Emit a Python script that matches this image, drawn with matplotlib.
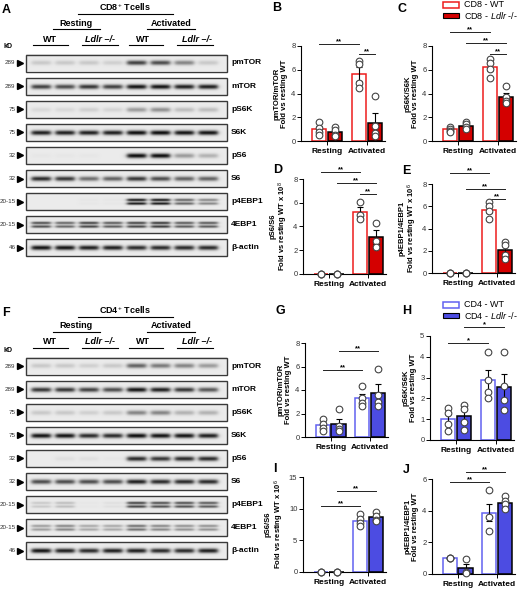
import numpy as np
import matplotlib
matplotlib.use('Agg')
import matplotlib.pyplot as plt
from matplotlib.patches import Rectangle

plt.rcParams['font.family'] = ['Liberation Sans', 'DejaVu Sans']
plt.rcParams['mathtext.fontset'] = 'custom'
plt.rcParams['mathtext.rm'] = 'Liberation Sans'
plt.rcParams['mathtext.it'] = 'Liberation Sans:italic'
plt.rcParams['mathtext.bf'] = 'Liberation Sans:bold'

# ---- blot data (band intensity per lane, 0..1) ----
proteins = ['pmTOR', 'mTOR', 'pS6K', 'S6K', 'pS6', 'S6', 'p4EBP1', '4EBP1', 'β-actin']
kd_marks = ['289', '289', '75', '75', '32', '32', '20-15', '20-15', '46']
doublets = ['p4EBP1', '4EBP1']

cd8_bands = [
    [0.15, 0.15, 0.15, 0.12, 0.75, 0.70, 0.45, 0.15],
    [0.75, 0.70, 0.80, 0.75, 0.95, 0.95, 0.90, 0.90],
    [0.08, 0.08, 0.12, 0.10, 0.35, 0.40, 0.20, 0.20],
    [0.90, 0.90, 0.90, 0.90, 0.98, 0.98, 0.95, 0.95],
    [0.02, 0.02, 0.02, 0.00, 0.98, 0.98, 0.35, 0.25],
    [0.85, 0.80, 0.55, 0.60, 0.80, 0.70, 0.60, 0.60],
    [0.00, 0.00, 0.02, 0.02, 0.95, 0.95, 0.60, 0.45],
    [0.70, 0.60, 0.75, 0.65, 0.75, 0.80, 0.65, 0.65],
    [0.95, 0.95, 0.90, 0.90, 0.85, 0.85, 0.85, 0.85],
]
cd4_bands = [
    [0.15, 0.15, 0.12, 0.15, 0.60, 0.50, 0.45, 0.35],
    [0.80, 0.80, 0.75, 0.70, 0.95, 0.90, 0.80, 0.65],
    [0.15, 0.15, 0.12, 0.15, 0.45, 0.45, 0.25, 0.25],
    [0.95, 0.95, 0.85, 0.85, 0.98, 0.95, 0.95, 0.90],
    [0.00, 0.05, 0.05, 0.02, 0.85, 0.80, 0.85, 0.85],
    [0.70, 0.70, 0.70, 0.70, 0.90, 0.85, 0.85, 0.85],
    [0.15, 0.20, 0.02, 0.05, 0.75, 0.70, 0.70, 0.65],
    [0.35, 0.45, 0.30, 0.30, 0.55, 0.45, 0.40, 0.40],
    [0.95, 0.90, 0.85, 0.90, 0.90, 0.85, 0.85, 0.90],
]

# ---- quantification data: bars = [rest WT, rest Ldlr, act WT, act Ldlr] ----
groups = ['Resting', 'Activated']

b_mean = [1.0, 0.75, 5.65, 1.55]
b_sem = [0.23, 0.18, 0.6, 0.77]
b_pts = [[1.6, 1.1, 0.8, 0.5], [1.2, 0.9, 0.5, 0.4], [6.7, 6.5, 4.9, 4.5], [3.8, 1.3, 0.7, 0.4]]
b_sig = [(0, 2, 8.2, '**'), (2, 3, 7.35, '**')]

c_mean = [1.0, 1.25, 6.25, 3.72]
c_sem = [0.12, 0.15, 0.33, 0.3]
c_pts = [[1.2, 1.0, 0.85, 0.8], [1.6, 1.4, 1.2, 1.0], [6.9, 6.6, 6.1, 5.3], [4.6, 3.7, 3.4, 3.2]]
c_sig = [(0, 2, 9.2, '**'), (1, 3, 8.25, '**'), (2, 3, 7.35, '**')]

d_mean = [0.02, 0.02, 5.2, 3.1]
d_sem = [0, 0, 0.45, 0.6]
d_pts = [[0.02, 0.02, 0.02], [0.02, 0.02, 0.02], [6.1, 5.0, 4.6], [4.3, 2.8, 2.3]]
d_sig = [(0, 2, 8.6, '**'), (1, 3, 7.65, '**'), (2, 3, 6.75, '**')]

e_mean = [0.02, 0.02, 5.7, 2.05]
e_sem = [0, 0, 0.3, 0.35]
e_pts = [[0.02, 0.02, 0.02], [0.02, 0.02, 0.02], [6.35, 6.05, 5.55, 4.85], [2.8, 2.5, 1.6, 1.3]]
e_sig = [(0, 2, 9.0, '**'), (1, 3, 7.55, '**'), (2, 3, 6.65, '**')]

g_mean = [0.98, 1.12, 3.28, 3.75]
g_sem = [0.2, 0.45, 0.38, 0.75]
g_pts = [[1.5, 1.1, 0.8, 0.5], [2.4, 0.9, 0.7, 0.5], [4.3, 3.3, 2.9, 2.6], [5.8, 3.6, 3.0, 2.6]]
g_sig = [(0, 2, 5.7, '**'), (1, 3, 7.3, '**')]

h_mean = [1.0, 1.13, 2.87, 2.55]
h_sem = [0.25, 0.3, 0.5, 0.62]
h_pts = [[1.55, 1.3, 0.75, 0.45], [1.7, 1.5, 0.85, 0.5], [4.25, 2.9, 2.3, 2.0], [4.25, 2.6, 1.9, 1.45]]
h_sig = [(0, 2, 4.68, '*'), (1, 3, 5.45, '*')]

i_mean = [0.05, 0.05, 8.1, 8.65]
i_sem = [0, 0, 0.45, 0.5]
i_pts = [[0.05, 0.05, 0.05], [0.05, 0.05, 0.05], [9.1, 8.3, 7.7, 7.3], [9.5, 8.9, 8.2, 8.0]]
i_sig = [(0, 2, 10.4, '**'), (1, 3, 12.8, '**')]

j_mean = [1.0, 0.38, 3.87, 4.5]
j_sem = [0.0, 0.28, 0.55, 0.17]
j_pts = [[1.0, 1.0, 1.0], [0.95, 0.15, 0.05], [5.3, 3.6, 2.7], [4.9, 4.6, 4.4, 4.1]]
j_sig = [(0, 2, 5.8, '**'), (1, 3, 6.45, '**')]

cd8_colors = ['#ee1c1c', '#d40000']
cd4_colors = ['#6262f0', '#4c4ce2']

W, H = 520, 589
fig = plt.figure(figsize=(W / 100, H / 100), dpi=100)
bg = fig.add_axes([0, 0, 1, 1])
bg.set_xlim(0, W)
bg.set_ylim(H, 0)
bg.axis('off')

lanes = np.linspace(41, 208, 8)
row_step = 23.1


def draw_blot(y_off, cells, bands):
    # headers
    hdr = dict(ha='center', va='center', fontsize=6.5, fontweight='bold')
    bg.text(125, y_off + 7, cells, **hdr)
    bg.plot([78, 173], [y_off + 14, y_off + 14], color='k', lw=0.8)
    for x, lab, x0, x1 in [(76, 'Resting', 53, 100), (171, 'Activated', 147, 195)]:
        bg.text(x, y_off + 23, lab, **hdr)
        bg.plot([x0, x1], [y_off + 29, y_off + 29], color='k', lw=0.8)
    for x, lab, x0, x1 in [(50, 'WT', 33, 68), (100, 'Ldlr –/-', 82, 118),
                           (143, 'WT', 129, 163), (197, 'Ldlr –/-', 177, 213)]:
        st = 'normal' if lab == 'WT' else 'italic'
        bg.text(x, y_off + 39, lab, style=st, **hdr)
        bg.plot([x0, x1], [y_off + 45, y_off + 45], color='k', lw=0.8)
    bg.text(4, y_off + 47, 'kD', fontsize=5, fontweight='bold', va='center')

    x0, x1 = 26, 227
    for i, (name, kd, inten) in enumerate(zip(proteins, kd_marks, bands)):
        yc = y_off + 63 + i * row_step
        y0, y1 = yc - 8.5, yc + 8.5
        xs = np.arange(x0, x1, 0.5)
        ys = np.arange(y0, y1, 0.5)
        X, Y = np.meshgrid(xs, ys)
        img = np.full(X.shape, 0.92)
        for lx, a in zip(lanes, inten):
            if name in doublets:
                py = np.exp(-((Y - yc + 1.8) / 1.3) ** 2) + np.exp(-((Y - yc - 1.8) / 1.3) ** 2)
                py = np.clip(py, 0, 1)
            else:
                py = np.exp(-((Y - yc) / 2.3) ** 2)
            px = 1 / (1 + np.exp((np.abs(X - lx) - 9.5) / 1.2))
            img -= 0.9 * a * px * py
        bg.imshow(img, extent=(x0, x1, y1, y0), cmap='gray', vmin=0, vmax=1,
                  interpolation='bilinear', aspect='auto')
        bg.add_patch(Rectangle((x0, y0), x1 - x0, y1 - y0, fill=False,
                               ec='#3a3a3a', lw=1.0))
        bg.text(15.5, yc, kd, ha='right', va='center', fontsize=4.5, color='#333')
        bg.plot(20, yc, marker='>', color='k', ms=5)
        bg.text(231, yc, name, ha='left', va='center', fontsize=6, fontweight='bold')
    bg.set_xlim(0, W)
    bg.set_ylim(H, 0)


draw_blot(0, 'CD8$^{+}$ Tcells', cd8_bands)
draw_blot(303, 'CD4$^{+}$ Tcells', cd4_bands)

pos = [-0.2, 0.2, 0.8, 1.2]


def bar_panel(box, mean, sem, pts, sig, ymax, step, ylabel, colors):
    l, t, r, b = box
    ax = fig.add_axes([l / W, 1 - b / H, (r - l) / W, (b - t) / H])
    faces = ['white', colors[1], 'white', colors[1]]
    edges = [colors[0], 'black', colors[0], 'black']
    ax.bar(pos, mean, width=0.36, color=faces, edgecolor=edges, linewidth=1.1, zorder=2)
    ax.errorbar(pos, mean, yerr=sem, fmt='none', ecolor='black', elinewidth=0.8,
                capsize=2.2, capthick=0.8, zorder=3)
    for x, ys in zip(pos, pts):
        ax.plot([x] * len(ys), ys, 'o', ms=4.8, mfc='white', mec='#444',
                mew=0.8, zorder=4, clip_on=False)
    for i, j, y, star in sig:
        ax.plot([pos[i], pos[j]], [y, y], color='#222', lw=0.7, clip_on=False)
        ax.annotate(star, ((pos[i] + pos[j]) / 2, y), xytext=(0, -0.8),
                    textcoords='offset points', ha='center', va='bottom',
                    fontsize=5.5, fontweight='bold', annotation_clip=False)
    ax.set_xlim(-0.65, 1.45)
    ax.set_ylim(0, ymax)
    ax.set_yticks(np.arange(0, ymax + 0.01, step))
    ax.set_xticks([0, 1])
    ax.set_xticklabels(groups, fontsize=6, fontweight='bold')
    ax.tick_params(axis='y', labelsize=5.5, length=3, width=0.7, pad=1, labelcolor='#333')
    ax.tick_params(axis='x', length=3, width=0.7, pad=2)
    for s in ['top', 'right']:
        ax.spines[s].set_visible(False)
    for s in ['left', 'bottom']:
        ax.spines[s].set_linewidth(0.8)
    ax.set_ylabel(ylabel, fontsize=5.5, fontweight='bold', labelpad=2, linespacing=1.1)
    ax.patch.set_alpha(0)
    return ax


fold = 'Fold vs resting WT'
bar_panel((301, 46, 385, 141), b_mean, b_sem, b_pts, b_sig, 8, 2, 'pmTOR/mTOR\n' + fold, cd8_colors)
bar_panel((432, 46, 516, 141), c_mean, c_sem, c_pts, c_sig, 8, 2, 'pS6K/S6K\n' + fold, cd8_colors)
bar_panel((303, 179, 386, 274), d_mean, d_sem, d_pts, d_sig, 8, 2, 'pS6/S6\n' + fold + r' x 10$^{8}$', cd8_colors)
bar_panel((432, 184, 515, 273), e_mean, e_sem, e_pts, e_sig, 8, 2, 'p4EBP1/4EBP1\n' + fold + r' x 10$^{6}$', cd8_colors)
bar_panel((305, 343, 388, 437), g_mean, g_sem, g_pts, g_sig, 8, 2, 'pmTOR/mTOR\n' + fold, cd4_colors)
bar_panel((430, 336, 514, 440), h_mean, h_sem, h_pts, h_sig, 5, 1, 'pS6K/S6K\n' + fold, cd4_colors)
bar_panel((303, 477, 386, 572), i_mean, i_sem, i_pts, i_sig, 15, 5, 'pS6/S6\n' + fold + r' x 10$^{6}$', cd4_colors)
bar_panel((432, 479, 515, 574), j_mean, j_sem, j_pts, j_sig, 6, 2, 'p4EBP1/4EBP1\n' + fold, cd4_colors)

# legends
for y_leg, cols, names in [(0, cd8_colors, ['CD8 - WT', r'CD8 - $\mathit{Ldlr}$ -/-']),
                           (300, cd4_colors, ['CD4 - WT', r'CD4 - $\mathit{Ldlr}$ -/-'])]:
    bg.add_patch(Rectangle((443, y_leg + 2), 16, 5.5, fc='white', ec=cols[0], lw=1.1))
    bg.add_patch(Rectangle((443, y_leg + 12.5), 16, 5.5, fc=cols[1], ec='black', lw=0.8))
    bg.text(464, y_leg + 4.8, names[0], fontsize=6.5, va='center')
    bg.text(464, y_leg + 15.3, names[1], fontsize=6.5, va='center')

# panel letters
for lab, x, y in [('A', 2, 10), ('F', 2, 313), ('B', 272, 8), ('C', 397, 9),
                  ('D', 273, 170), ('E', 402, 171), ('G', 275, 311), ('H', 402, 311),
                  ('I', 273, 469), ('J', 403, 470)]:
    bg.text(x, y, lab, fontsize=9, fontweight='bold', va='center', ha='left')

fig.savefig('out.png', dpi=100)
